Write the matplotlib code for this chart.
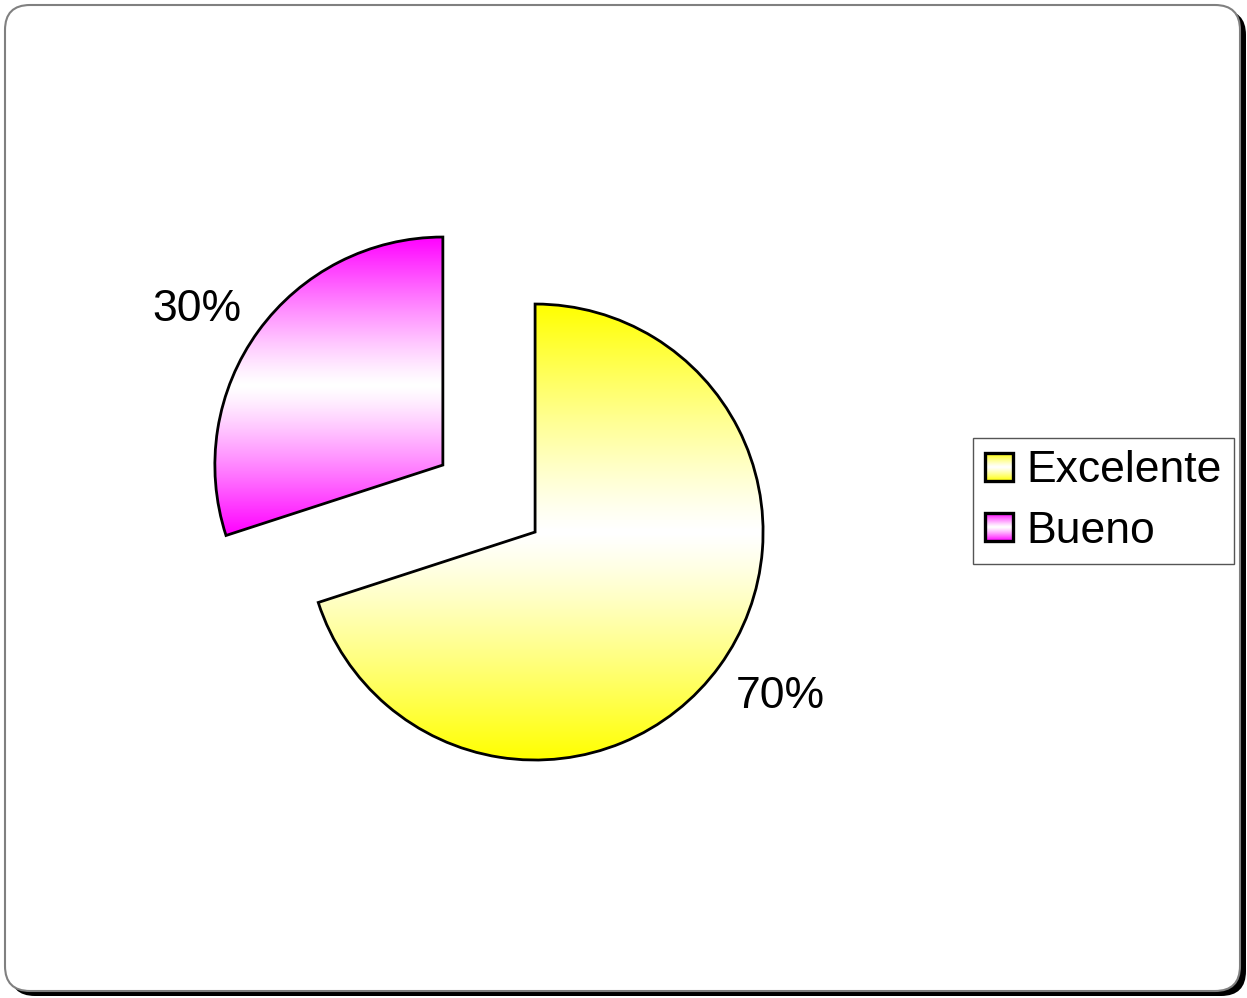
import numpy as np
import matplotlib.pyplot as plt
from matplotlib.patches import FancyBboxPatch, Rectangle
from matplotlib.legend_handler import HandlerBase
from matplotlib.image import BboxImage
from matplotlib.transforms import Bbox, TransformedBbox
from matplotlib.colors import LinearSegmentedColormap

# data
labels = ['Excelente', 'Bueno']
values = [70, 30]
colors = ['#ffff00', '#ff00ff']
explode = [0, 0.5]

plt.rcParams['font.family'] = ['Liberation Sans', 'DejaVu Sans']

# vertical gradient: colour at top and bottom, white in the middle
grad = np.abs(np.linspace(-1, 1, 256)).reshape(-1, 1) ** 1.2


def gradient_cmap(c):
    return LinearSegmentedColormap.from_list('grad', ['white', c])


class GradientSquare(HandlerBase):
    # legend key drawn as a small square filled with the same gradient
    def __init__(self, color):
        super().__init__()
        self.color = color

    def create_artists(self, legend, orig_handle, xdescent, ydescent,
                       width, height, fontsize, trans):
        s = min(width, height)
        x0 = -xdescent + (width - s) / 2
        y0 = -ydescent + (height - s) / 2
        bb = TransformedBbox(Bbox.from_bounds(x0, y0, s, s), trans)
        img = BboxImage(bb, cmap=gradient_cmap(self.color), interpolation='bilinear')
        img.set_data(grad)
        rect = Rectangle((x0, y0), s, s, fc='none', ec='black', lw=2.4, transform=trans)
        return [img, rect]


fig = plt.figure(figsize=(12.47, 9.98), dpi=100)

# rounded frame with a drop shadow
bg = fig.add_axes([0, 0, 1, 1])
bg.set_xlim(0, 1247)
bg.set_ylim(998, 0)
bg.axis('off')
bg.add_patch(FancyBboxPatch((10, 10), 1236, 986, boxstyle='round,pad=0,rounding_size=25',
                            fc='black', ec='none'))
bg.add_patch(FancyBboxPatch((5, 5), 1235, 986, boxstyle='round,pad=0,rounding_size=25',
                            fc='white', ec='#808080', lw=1.5))

ax = fig.add_axes([0.0634, 0.01, 0.7314, 0.9138])
wedges, texts, pcts = ax.pie(values, explode=explode, startangle=90, counterclock=False,
                             colors=colors, autopct='%1.0f%%', pctdistance=1.285,
                             wedgeprops=dict(edgecolor='black', linewidth=2.0),
                             textprops=dict(fontsize=32, color='black'))

for w, c, t in zip(wedges, colors, pcts):
    ext = w.get_path().get_extents()
    im = ax.imshow(grad, cmap=gradient_cmap(c), aspect='auto', interpolation='bilinear',
                   extent=[ext.x0, ext.x1, ext.y0, ext.y1], zorder=0.5)
    im.set_clip_path(w)
    w.set_facecolor('none')
    # nudge the percentage label a few degrees counter-clockwise around its wedge
    cx, cy = w.center
    x, y = t.get_position()
    a = np.deg2rad(3)
    dx, dy = x - cx, y - cy
    t.set_position((cx + dx * np.cos(a) - dy * np.sin(a), cy + dx * np.sin(a) + dy * np.cos(a)))
    t.set_va('center_baseline')

ax.set_xlim(-2, 2)
ax.set_ylim(-2, 2)
ax.set_aspect('equal')
ax.axis('off')

fig.legend(wedges, labels, loc='upper left', bbox_to_anchor=(973 / 1247, 1 - 438 / 998),
           borderaxespad=0, fontsize=32, handlelength=0.63, handleheight=0.63,
           handletextpad=0.28, borderpad=0.28, labelspacing=0.43, fancybox=False,
           framealpha=1, edgecolor='#555555',
           handler_map={w: GradientSquare(c) for w, c in zip(wedges, colors)})

fig.savefig('out.png', dpi=100)
